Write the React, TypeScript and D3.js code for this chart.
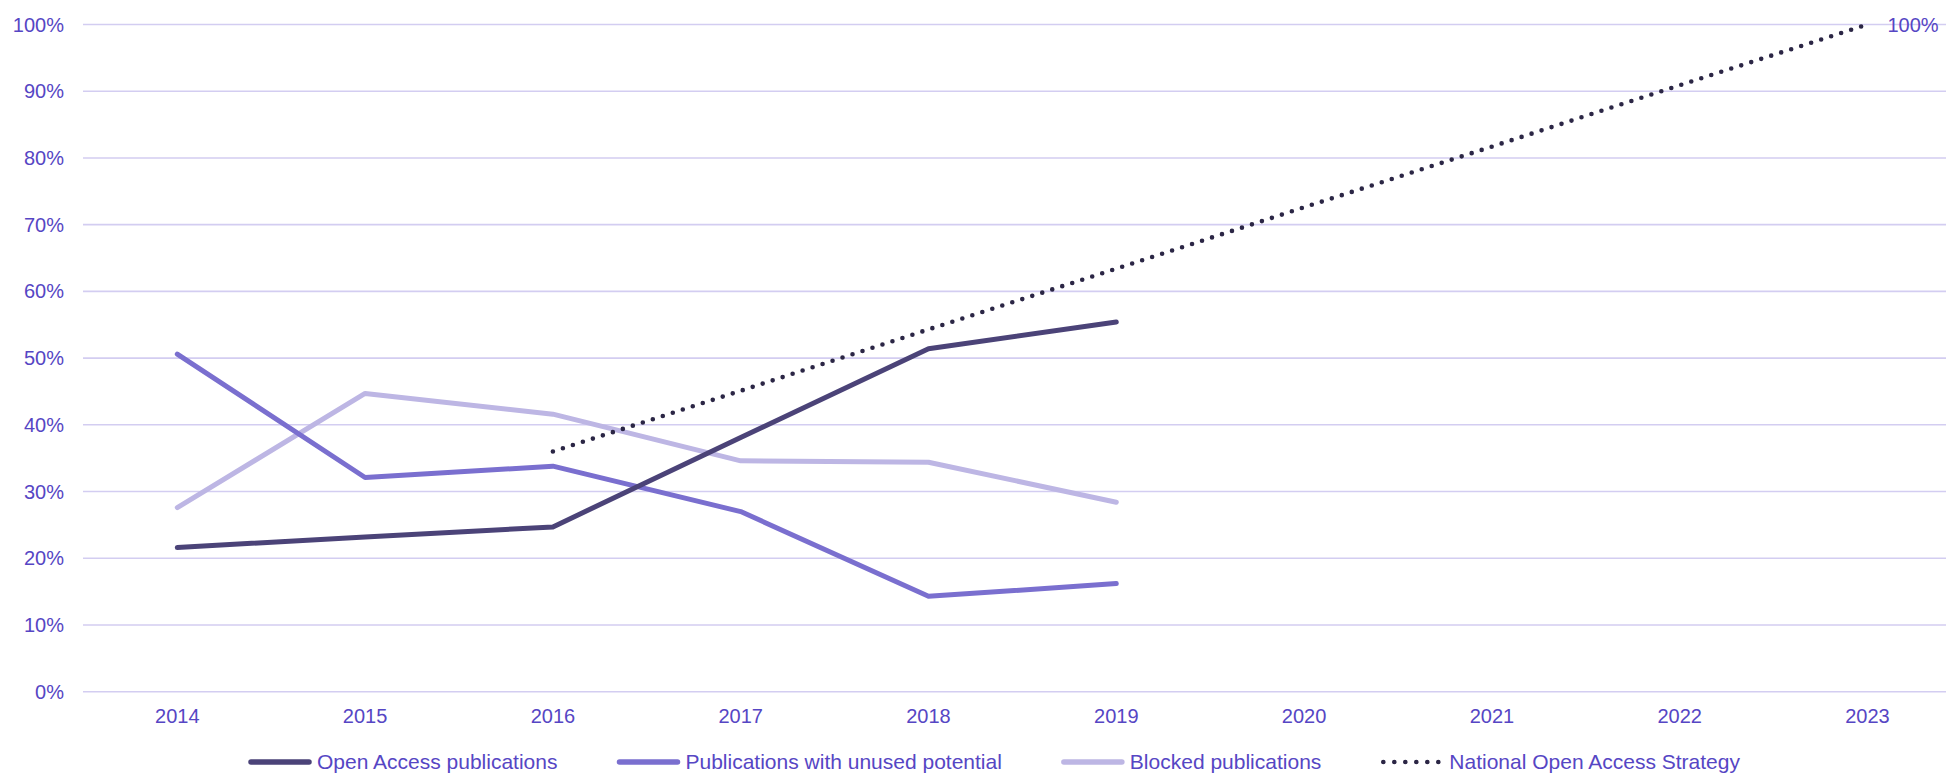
import React, { useEffect, useRef } from "react";
import * as d3 from "d3";

const years = ["2014", "2015", "2016", "2017", "2018", "2019", "2020", "2021", "2022", "2023"];
const yTicks = [0, 10, 20, 30, 40, 50, 60, 70, 80, 90, 100];

const openAccess = [21.6, 23.2, 24.7, 38.1, 51.4, 55.4];
const unusedPotential = [50.6, 32.1, 33.8, 27.0, 14.3, 16.2];
const blocked = [27.6, 44.7, 41.6, 34.6, 34.4, 28.4];
const strategyYears = ["2016", "2017", "2018", "2019", "2020", "2021", "2022", "2023"];
const strategy = [36.0, 45.1, 54.3, 63.4, 72.6, 81.7, 90.9, 100];

const legendLabels = [
  "Open Access publications",
  "Publications with unused potential",
  "Blocked publications",
  "National Open Access Strategy",
];

const COLORS = {
  oa: "#4b4378",
  unused: "#7a6fcf",
  blocked: "#bdb6e4",
  strategy: "#2b2645",
  text: "#5646c4",
  grid: "#d3cdf1",
};

const FONT = "'Liberation Sans', Arial, sans-serif";

export default function App() {
  const ref = useRef<SVGSVGElement | null>(null);

  useEffect(() => {
    document.body.style.margin = "0";
    const W = 1946;
    const svg = d3.select(ref.current);
    svg.selectAll("*").remove();

    const x = d3.scalePoint<string>().domain(years).range([177.3, 1867.5]);
    const y = d3.scaleLinear().domain([0, 100]).range([691.7, 24.5]);
    const gridLeft = 83;
    const gridRight = W;

    svg
      .append("g")
      .selectAll("line")
      .data(yTicks)
      .join("line")
      .attr("x1", gridLeft)
      .attr("x2", gridRight)
      .attr("y1", (d) => y(d))
      .attr("y2", (d) => y(d))
      .attr("stroke", COLORS.grid)
      .attr("stroke-width", 1.6);

    svg
      .append("g")
      .selectAll("text")
      .data(yTicks)
      .join("text")
      .attr("x", 64)
      .attr("y", (d) => y(d))
      .attr("dy", "0.35em")
      .attr("text-anchor", "end")
      .attr("font-family", FONT)
      .attr("font-size", 20)
      .attr("fill", COLORS.text)
      .text((d) => `${d}%`);

    svg
      .append("g")
      .selectAll("text")
      .data(years)
      .join("text")
      .attr("x", (d) => x(d)!)
      .attr("y", 723)
      .attr("text-anchor", "middle")
      .attr("font-family", FONT)
      .attr("font-size", 20)
      .attr("fill", COLORS.text)
      .text((d) => d);

    const line = d3
      .line<[string, number]>()
      .x((d) => x(d[0])!)
      .y((d) => y(d[1]));

    const series: { data: number[]; yrs: string[]; color: string; dotted?: boolean }[] = [
      { data: blocked, yrs: years, color: COLORS.blocked },
      { data: unusedPotential, yrs: years, color: COLORS.unused },
      { data: openAccess, yrs: years, color: COLORS.oa },
      { data: strategy, yrs: strategyYears, color: COLORS.strategy, dotted: true },
    ];

    series.forEach((s) => {
      const pts: [string, number][] = s.data.map((v, i) => [s.yrs[i], v]);
      const p = svg
        .append("path")
        .attr("d", line(pts)!)
        .attr("fill", "none")
        .attr("stroke", s.color)
        .attr("stroke-linecap", "round")
        .attr("stroke-linejoin", "round");
      if (s.dotted) {
        p.attr("stroke-width", 4.6).attr("stroke-dasharray", "0 10.5");
      } else {
        p.attr("stroke-width", 5);
      }
    });

    const lastYear = strategyYears[strategyYears.length - 1];
    const lastVal = strategy[strategy.length - 1];
    svg
      .append("text")
      .attr("x", x(lastYear)! + 20)
      .attr("y", y(lastVal))
      .attr("dy", "0.35em")
      .attr("font-family", FONT)
      .attr("font-size", 20)
      .attr("fill", COLORS.text)
      .text(`${lastVal}%`);

    const legendColors = [COLORS.oa, COLORS.unused, COLORS.blocked, COLORS.strategy];
    const lg = svg.append("g");
    let cx = 249;
    const ly = 762;
    legendLabels.forEach((label, i) => {
      const dotted = i === 3;
      const l = lg
        .append("line")
        .attr("x1", cx + 2)
        .attr("x2", dotted ? cx + 58 : cx + 60)
        .attr("y1", ly)
        .attr("y2", ly)
        .attr("stroke", legendColors[i])
        .attr("stroke-linecap", "round");
      if (dotted) {
        l.attr("stroke-width", 4.6).attr("stroke-dasharray", "0 11");
      } else {
        l.attr("stroke-width", 5.5);
      }
      const t = lg
        .append("text")
        .attr("x", cx + 68)
        .attr("y", ly)
        .attr("dy", "0.35em")
        .attr("font-family", FONT)
        .attr("font-size", 21)
        .attr("fill", COLORS.text)
        .text(label);
      const w = (t.node() as SVGTextElement).getComputedTextLength();
      cx = cx + 68 + w + 60;
    });
  }, []);

  return <svg ref={ref} width={1946} height={774} style={{ display: "block", background: "#fff" }} />;
}
